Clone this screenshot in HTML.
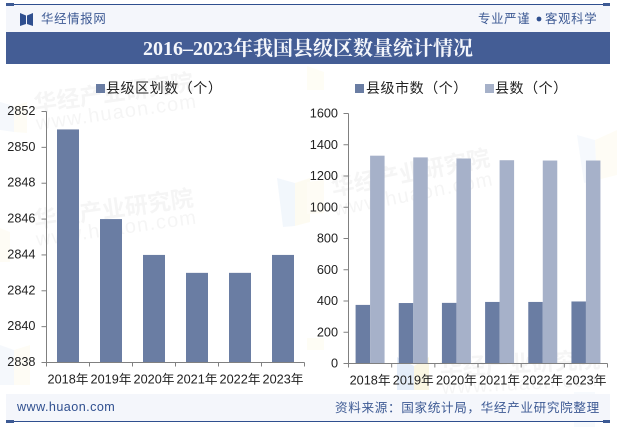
<!DOCTYPE html>
<html lang="zh">
<head>
<meta charset="utf-8">
<title>2016-2023年我国县级区数量统计情况</title>
<style>
html,body{margin:0;padding:0;background:#fff;}
#page{position:relative;width:617px;height:427px;overflow:hidden;background:#fff;font-family:"Liberation Sans","Noto Sans CJK SC",sans-serif;color:#222;}
.abs{position:absolute;white-space:nowrap;}
svg{position:absolute;left:0;top:0;}
</style>
</head>
<body>
<div id="page">
  <svg width="617" height="427">
    <g opacity="0.55">
      <polygon points="277,178 295,183 295,226 283,227" fill="#e9f1fb"/>
      <polygon points="295,183 310,178 310,222 295,226" fill="#fdf8e6"/>
      <polygon points="397,357 414,366 414,390 397,390" fill="#cfe0f5"/>
      <polygon points="414,366 429,357 429,390 414,390" fill="#f6efcc"/>
      <polygon points="0,102 14,106 14,132 0,130" fill="#eef4fb"/>
      <polygon points="14,106 27,102 27,133 14,132" fill="#fefbed"/>
      <polygon points="0,228 10,232 10,262 0,262" fill="#fefbed"/>
      <polygon points="0,345 14,350 14,385 0,385" fill="#eef4fb"/>
      <polygon points="14,350 30,345 30,385 14,385" fill="#fefbed"/>
      <polygon points="307,66 324,72 324,90 307,90" fill="#fefbed"/>
      <polygon points="307,182 324,180 324,213 307,214" fill="#fefbed"/>
      <polygon points="307,338 324,338 324,350 307,350" fill="#fefbed"/>
      <polygon points="577,135 595,140 597,180 584,183" fill="#f0f5fc"/>
      <polygon points="595,140 617,130 617,175 597,180" fill="#fefbed"/>
      <polygon points="574,392 595,392 595,427 574,427" fill="#f0f5fc"/>
    </g>
    <g font-family="'Liberation Sans','Noto Sans CJK SC',sans-serif" fill="#000" opacity="0.04">
      <text x="35" y="112" font-size="23" font-weight="bold" transform="rotate(-8 35 112)">华经产业研究院</text>
      <text x="37" y="130" font-size="20" letter-spacing="1.2" transform="rotate(-8 37 130)">www.huaon.com</text>
      <text x="35" y="228" font-size="23" font-weight="bold" transform="rotate(-8 35 228)">华经产业研究院</text>
      <text x="37" y="246" font-size="20" letter-spacing="1.2" transform="rotate(-8 37 246)">www.huaon.com</text>
      <text x="333" y="196" font-size="23" font-weight="bold" transform="rotate(-11 333 196)">华经产业研究院</text>
      <text x="335" y="216" font-size="20" letter-spacing="1.2" transform="rotate(-11 335 216)">www.huaon.com</text>
      <text x="440" y="376" font-size="23" font-weight="bold" transform="rotate(-3 440 376)">华经产业研究院</text>
      <text x="442" y="394" font-size="20" letter-spacing="1.2" transform="rotate(-3 442 394)">www.huaon.com</text>
    </g>
  </svg>

  <div class="abs" style="left:6px;top:5px;width:604px;height:27px;background:#f4f6fb;"></div>
  <div class="abs" style="left:6px;top:4px;width:604px;height:1px;background:#2f4f8f;"></div>
  <div class="abs" style="left:6px;top:3px;width:8px;height:3px;background:#3d5a94;"></div>
  <div class="abs" style="left:603px;top:3px;width:7px;height:3px;background:#3d5a94;"></div>

  <svg width="617" height="427" style="pointer-events:none">
    <polygon points="20,13 26,15.5 26,24 20,26" fill="#2f4f8f"/>
    <polygon points="27,15.5 33,13 33,26 27,24" fill="#2f4f8f"/>
    <circle cx="539" cy="19" r="2.4" fill="#2f4f8f"/>
  </svg>
  <div class="abs" style="left:41px;top:11px;font-size:12.4px;letter-spacing:.7px;line-height:16px;color:#3d5a94;">华经情报网</div>
  <div class="abs" style="left:478px;top:11px;font-size:12.4px;letter-spacing:.7px;line-height:16px;color:#3d5a94;">专业严谨</div>
  <div class="abs" style="left:545px;top:11px;font-size:12.4px;letter-spacing:.7px;line-height:16px;color:#3d5a94;">客观科学</div>

  <div class="abs" style="left:6px;top:32px;width:604px;height:32px;background:#445d95;"></div>
  <div class="abs" style="left:143px;top:36px;font-family:'Liberation Serif','Noto Serif CJK SC',serif;font-weight:bold;font-size:20px;line-height:26px;color:#f4f6fb;">2016–2023年我国县级区数量统计情况</div>

  <div class="abs" style="left:96px;top:84px;width:9px;height:9px;background:#6a7da3;"></div>
  <div class="abs" style="left:106px;top:79px;font-size:14px;letter-spacing:.55px;line-height:18px;color:#222;">县级区划数（个）</div>
  <div class="abs" style="left:355px;top:84px;width:9px;height:9px;background:#6a7da3;"></div>
  <div class="abs" style="left:366px;top:79px;font-size:14px;letter-spacing:.55px;line-height:18px;color:#222;">县级市数（个）</div>
  <div class="abs" style="left:485px;top:84px;width:9px;height:9px;background:#a6b1c9;"></div>
  <div class="abs" style="left:495px;top:79px;font-size:14px;letter-spacing:.55px;line-height:18px;color:#222;">县数（个）</div>

  <svg id="charts" width="617" height="427"></svg>

  <div class="abs" style="left:6px;top:394px;width:604px;height:27px;background:#f4f6fb;"></div>
  <div class="abs" style="left:6px;top:421px;width:604px;height:1px;background:#2f4f8f;"></div>
  <div class="abs" style="left:6px;top:420px;width:8px;height:3px;background:#3d5a94;"></div>
  <div class="abs" style="left:603px;top:420px;width:7px;height:3px;background:#3d5a94;"></div>
  <div class="abs" style="left:17px;top:399px;font-size:12.6px;letter-spacing:.45px;line-height:16px;color:#2f4f8f;">www.huaon.com</div>
  <div class="abs" style="left:335px;top:400px;font-size:12.6px;letter-spacing:.65px;line-height:16px;color:#3d5a94;">资料来源：国家统计局，华经产业研究院整理</div>
</div>

<script>
var categories = ['2018年', '2019年', '2020年', '2021年', '2022年', '2023年'];
var districtValues = [2851, 2846, 2844, 2843, 2843, 2844];
var cityValues = [375, 387, 388, 394, 394, 397];
var countyValues = [1330, 1319, 1312, 1301, 1299, 1299];
var leftTicks = [2838, 2840, 2842, 2844, 2846, 2848, 2850, 2852];
var rightTicks = [0, 200, 400, 600, 800, 1000, 1200, 1400, 1600];

var svg = document.getElementById('charts');
var NS = 'http://www.w3.org/2000/svg';

function make(tag, attrs) {
  var el = document.createElementNS(NS, tag);
  for (var k in attrs) el.setAttribute(k, attrs[k]);
  svg.appendChild(el);
  return el;
}

function drawAxes(frame, ticks, prefix) {
  var axisY = make('line', {x1: frame.left, x2: frame.left, y1: frame.top, y2: frame.bottom, stroke: '#808080', 'stroke-width': 1});
  
  
  var axisX = make('line', {x1: frame.left - 5, x2: frame.right, y1: frame.bottom, y2: frame.bottom, stroke: '#808080', 'stroke-width': 1});
  
  

  ticks.forEach(function (t) {
    var y = frame.y(t);
    var mark = make('line', {x1: frame.left - 5, x2: frame.left, y1: y, y2: y, stroke: '#808080', 'stroke-width': 1});
    
    
    var label = make('text', {x: frame.left - frame.labelGap, y: y + frame.labelDrop, 'text-anchor': 'end', 'font-size': 12.7, fill: '#222', 'font-family': '"Liberation Sans","Noto Sans CJK SC",sans-serif'});
    label.textContent = t;
    
    
  });

  categories.forEach(function (c, i) {
    var x = frame.left + i * frame.step;
    var mark = make('line', {x1: x, x2: x, y1: frame.bottom, y2: frame.bottom + 4, stroke: '#808080', 'stroke-width': 1});
    
    
    var label = make('text', {x: x + frame.step / 2, y: frame.bottom + 21, 'text-anchor': 'middle', 'font-size': 12.7, fill: '#222', 'font-family': '"Liberation Sans","Noto Sans CJK SC",sans-serif'});
    label.textContent = c;
    
    
  });
  var end = make('line', {x1: frame.right, x2: frame.right, y1: frame.bottom, y2: frame.bottom + 4, stroke: '#808080', 'stroke-width': 1});
  
  
}

function scaleY(frame, min, max) {
  return function (v) {
    return frame.bottom - (v - min) / (max - min) * (frame.bottom - frame.top);
  };
}

var leftFrame = {left: 46.5, right: 304.5, top: 111.5, bottom: 362.5, step: 43, labelGap: 11, labelDrop: 3.5};
leftFrame.y = scaleY(leftFrame, 2838, 2852);
var rightFrame = {left: 348.5, right: 607.5, top: 113.5, bottom: 363.5, step: 43.17, labelGap: 10.5, labelDrop: 4};
rightFrame.y = scaleY(rightFrame, 0, 1600);

districtValues.forEach(function (v, i) {
  var y = leftFrame.y(v);
  var bar = make('rect', {x: leftFrame.left + i * leftFrame.step + 10.5, y: y, width: 22, height: leftFrame.bottom - y, fill: '#6a7da3'});
  
  
});

categories.forEach(function (c, i) {
  var cx = rightFrame.left + i * rightFrame.step + rightFrame.step / 2;
  var yCity = rightFrame.y(cityValues[i]);
  var yCounty = rightFrame.y(countyValues[i]);
  var cityBar = make('rect', {x: cx - 14.5, y: yCity, width: 14.5, height: rightFrame.bottom - yCity, fill: '#6a7da3'});
  
  
  var countyBar = make('rect', {x: cx, y: yCounty, width: 14.5, height: rightFrame.bottom - yCounty, fill: '#a6b1c9'});
  
  
});

drawAxes(leftFrame, leftTicks, 'left-chart');
drawAxes(rightFrame, rightTicks, 'right-chart');
</script>
</body>
</html>
